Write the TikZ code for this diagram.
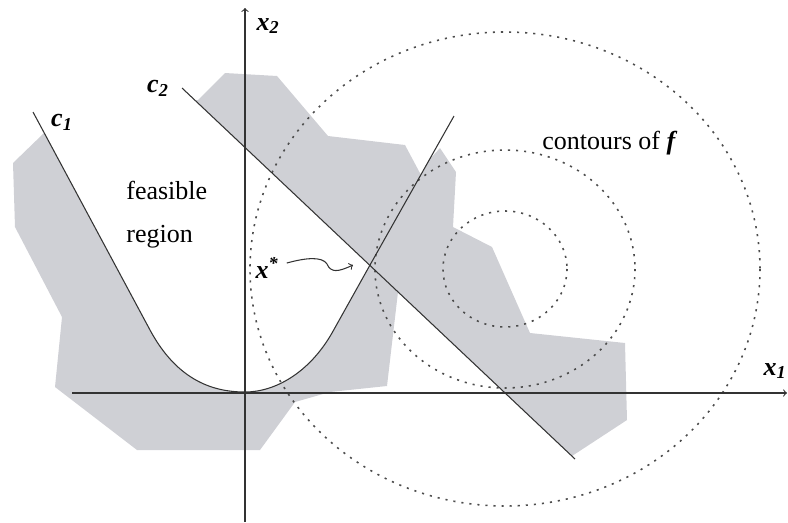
\documentclass[tikz,border=0pt]{standalone}
\usepackage{fontspec}
\setmainfont{Liberation Serif}
\definecolor{regiongray}{RGB}{207,208,213}
\begin{document}
\begin{tikzpicture}[x=0.02cm, y=-0.02cm, >=to,
  lbl/.style={font=\fontsize{14.8}{17}\selectfont\bfseries\itshape, inner sep=0pt},
  txt/.style={font=\fontsize{14.8}{17}\selectfont, inner sep=0pt},
  contour/.style={black!70, line width=0.9pt, dash pattern=on 1.2pt off 3.4pt},
  curve/.style={black!80, line width=0.6pt}]
  \useasboundingbox (0,0) rectangle (788,522);
  % 点
  \coordinate (O) at (245,393);
  \coordinate (xs) at (370,265);
  \coordinate (c1a) at (33,112);
  \coordinate (c1b) at (454,116);
  \coordinate (c2a) at (182,88);
  \coordinate (c2b) at (575,459);
  \coordinate (fc) at (505,269);
  % 実行不可能領域 (灰色)
  \fill[regiongray] (44,133) -- (13,163) -- (15,227) -- (62,317) -- (55,387)
    -- (137,450) -- (260,450) -- (295,402) -- (330,392) -- (387,386)
    -- (398,292) -- (572,456) -- (627,420) -- (625,343) -- (530,333)
    -- (492,247) -- (453,227) -- (456,172) -- (440,148) -- (429,160)
    -- (421,175) -- (405,145) -- (328,136) -- (277,76) -- (225,73)
    -- (198,100) -- cycle;
  % 実行可能領域 (白)
  \fill[white] (-27,0) -- (c1a) -- (150,330) .. controls (178,382) and (215,392) .. (245,392)
    .. controls (275,392) and (309,373) .. (332,333) -- (xs) -- (c2a) -- (89,0) -- cycle;
  % f の等高線
  \draw[contour] (fc) ellipse [x radius=62, y radius=58];
  \draw[contour] (fc) ellipse [x radius=130, y radius=119];
  \draw[contour] (fc) ellipse [x radius=255, y radius=237];
  % 座標軸
  \draw[curve, ->] (72,393) -- (787,393);
  \draw[curve, ->] (245,522) -- (245,8);
  % 制約 c_1, c_2
  \draw[curve] (c1a) -- (150,330) .. controls (178,382) and (215,392) .. (245,392)
    .. controls (275,392) and (309,373) .. (332,333) -- (xs) -- (c1b);
  \draw[curve] (c2a) -- (c2b);
  % ラベル
  \node[lbl] (x2lab) at (268,26) {x\textsubscript{2}};
  \node[lbl, anchor=east] (x1lab) at (787,371) {x\textsubscript{1}};
  \node[lbl] (c1lab) at (62,122) {c\textsubscript{1}};
  \node[lbl] (c2lab) at (158,88) {c\textsubscript{2}};
  \node[lbl] (xslab) at (267,268) {x\textsuperscript{*}};
  \node[txt, anchor=base west] (feas) at (126,199) {feasible};
  \node[txt, anchor=base west] (reg) at (126,242) {region};
  \node[txt, anchor=base west] (cont) at (542,149) {contours of \textbf{\textit{f}}};
  \coordinate (xsend) at (353,265);
  \draw[curve, ->] (xslab.east) ++(8,-5) .. controls (305,258) and (322,256) .. (327,264)
    .. controls (331,273) and (338,272) .. (xsend);
\end{tikzpicture}
\end{document}
